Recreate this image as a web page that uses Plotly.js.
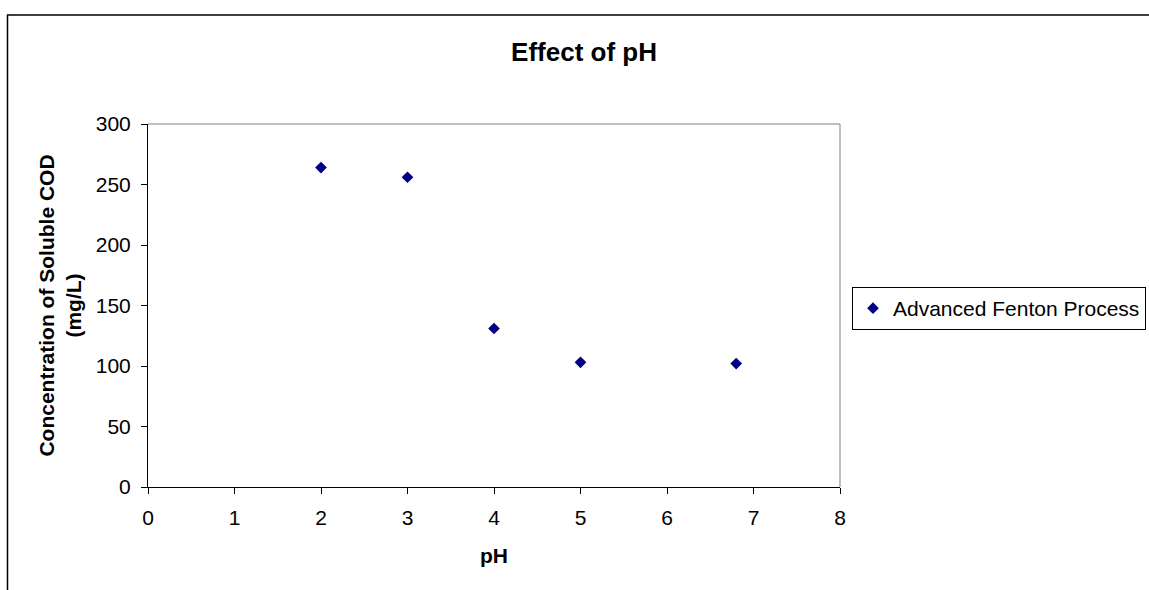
<!DOCTYPE html>
<html>
<head>
<meta charset="utf-8">
<script src="https://cdn.plot.ly/plotly-3.0.1.min.js"></script>
<style>
html,body{margin:0;padding:0;background:#fff;overflow:hidden;}
#chart{width:1149px;height:590px;}
</style>
</head>
<body>
<div id="chart"></div>
<script>
// Data
var seriesName = "Advanced Fenton Process";
var phValues = [2, 3, 4, 5, 6.8];
var solubleCOD = [264, 256, 131, 103, 102];
var xTicks = [0, 1, 2, 3, 4, 5, 6, 7, 8];
var yTicks = [0, 50, 100, 150, 200, 250, 300];
var chartTitle = "Effect of pH";
var xTitle = "pH";
var yTitle = "Concentration of Soluble COD<br>(mg/L)";

var FONT = "Arial, 'Liberation Sans', sans-serif";

var trace = {
  type: "scatter",
  mode: "markers",
  name: seriesName,
  x: phValues,
  y: solubleCOD,
  marker: {symbol: "diamond", size: 9, color: "#000080", line: {width: 0}},
  cliponaxis: false,
  showlegend: true
};

var W = 1149, H = 590;
var mL = 148, mR = W - 840, mT = 124, mB = H - 487;
var pw = W - mL - mR, ph = H - mT - mB;
function px2paperX(p){ return (p - mL) / pw; }
function px2paperY(p){ return (H - mB - p) / ph; }

var layout = {
  width: W, height: H,
  margin: {l: mL, r: mR, t: mT, b: mB, pad: 0},
  paper_bgcolor: "#ffffff",
  plot_bgcolor: "#ffffff",
  font: {family: FONT, size: 21, color: "#000"},
  title: {
    text: "<b>" + chartTitle + "</b>",
    font: {family: FONT, size: 26, color: "#000"},
    x: 584 / W, xref: "container", xanchor: "center",
    y: 1 - 52 / H, yref: "container", yanchor: "middle"
  },
  xaxis: {
    range: [0, 8],
    tickvals: xTicks,
    ticktext: xTicks.map(String),
    ticks: "outside", ticklen: 6, tickwidth: 1, tickcolor: "#000",
    showline: true, linecolor: "#000", linewidth: 1,
    showgrid: false, zeroline: false,
    tickfont: {family: FONT, size: 21, color: "#000"},
    ticklabelstandoff: 6,
    title: {text: "<b>" + xTitle + "</b>", font: {family: FONT, size: 21, color: "#000"}, standoff: 20},
    automargin: false
  },
  yaxis: {
    range: [0, 300],
    tickvals: yTicks,
    ticktext: yTicks.map(String),
    ticks: "outside", ticklen: 6, tickwidth: 1, tickcolor: "#000",
    showline: true, linecolor: "#000", linewidth: 1,
    showgrid: false, zeroline: false,
    tickfont: {family: FONT, size: 21, color: "#000"},
    ticklabelstandoff: 6,
    title: {text: "<b>" + yTitle + "</b>", font: {family: FONT, size: 21, color: "#000"}, standoff: 8},
    automargin: false
  },
  legend: {
    xref: "container", yref: "container",
    x: 852 / W, xanchor: "left",
    y: 1 - 287 / H, yanchor: "top",
    bgcolor: "#fff",
    bordercolor: "#000", borderwidth: 1,
    font: {family: FONT, size: 21, color: "#000"},
    itemwidth: 30,
    tracegroupgap: 0
  },
  showlegend: true,
  shapes: [
    // grey plot-area frame (top and right)
    {type: "line", xref: "paper", yref: "paper", x0: 0, x1: 1, y0: 1, y1: 1, line: {color: "#808080", width: 1}},
    {type: "line", xref: "paper", yref: "paper", x0: 1, x1: 1, y0: 0, y1: 1, line: {color: "#808080", width: 1}},
    // chart-area outer border
    {type: "rect", xref: "paper", yref: "paper",
     x0: px2paperX(7.5), x1: px2paperX(1200), y0: px2paperY(640), y1: px2paperY(15),
     line: {color: "#000", width: 1.5}, fillcolor: "rgba(0,0,0,0)", layer: "below"}
  ]
};

Plotly.newPlot("chart", [trace], layout, {displayModeBar: false, staticPlot: true});
</script>
</body>
</html>
